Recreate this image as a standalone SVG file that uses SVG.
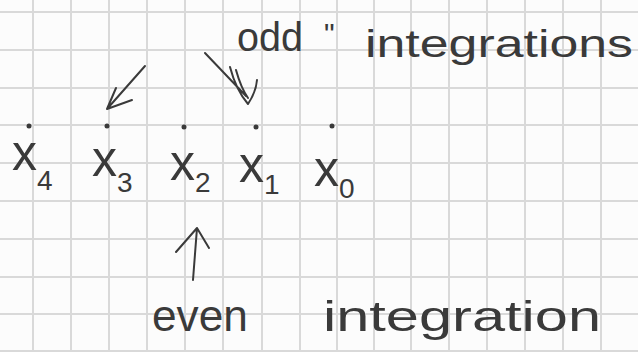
<svg xmlns="http://www.w3.org/2000/svg" width="638" height="352" viewBox="0 0 638 352">
<style>
.grid{stroke:#d9d9d9;stroke-width:2;fill:none}
.ink{fill:#3a3a3a;font-family:"Liberation Sans","DejaVu Sans",sans-serif}
.pen{stroke:#3a3a3a;stroke-width:2;fill:none;stroke-linecap:round;stroke-linejoin:round}
.dot{fill:#3a3a3a}
</style>
<rect width="638" height="352" fill="#fcfcfc"/>
<path class="grid" d="M33,0V352M71,0V352M109,0V352M147,0V352M185,0V352M223,0V352M262,0V352M300,0V352M337,0V352M374,0V352M411,0V352M449,0V352M487,0V352M525,0V352M563,0V352M601,0V352M0,12H638M0,50H638M0,88H638M0,125H638M0,163H638M0,201H638M0,239H638M0,277H638M0,314H638M0,351H638"/>
<g id="x4"><circle class="dot" cx="29" cy="126" r="2.5"/><text class="ink" x="12" y="170" font-size="50">x<tspan font-size="28" dy="20">4</tspan></text></g>
<g id="x3"><circle class="dot" cx="107" cy="126" r="2.5"/><text class="ink" x="92" y="176" font-size="50">x<tspan font-size="28" dy="16">3</tspan></text></g>
<g id="x2"><circle class="dot" cx="184" cy="127" r="2.5"/><text class="ink" x="170" y="180" font-size="50">x<tspan font-size="28" dy="12">2</tspan></text></g>
<g id="x1"><circle class="dot" cx="256" cy="127" r="2.5"/><text class="ink" x="239" y="182" font-size="50">x<tspan font-size="28" dy="12">1</tspan></text></g>
<g id="x0"><circle class="dot" cx="332" cy="126" r="2.5"/><text class="ink" x="314" y="186" font-size="50">x<tspan font-size="28" dy="12">0</tspan></text></g>
<g id="odd-label"><text class="ink" x="237" y="51" font-size="40" textLength="66" lengthAdjust="spacingAndGlyphs">odd</text><text class="ink" x="324" y="44" font-size="30">"</text><text class="ink" x="365" y="57" font-size="38" textLength="268" lengthAdjust="spacingAndGlyphs">integrations</text></g>
<g id="even-label"><text class="ink" x="152" y="331" font-size="44" textLength="96" lengthAdjust="spacingAndGlyphs">even</text><text class="ink" x="323" y="331" font-size="42" textLength="278" lengthAdjust="spacingAndGlyphs">integration</text></g>
<g id="connectors">
<path class="pen" d="M145,66L107,109M116,88L107,109L132,100"/>
<path class="pen" d="M205,53L246,96M230,67Q236,90 248,104Q256,92 257,80M236,70Q241,88 248,98"/>
<path class="pen" d="M193,280L197,228M176,252L197,228L209,248"/>
</g>
</svg>
